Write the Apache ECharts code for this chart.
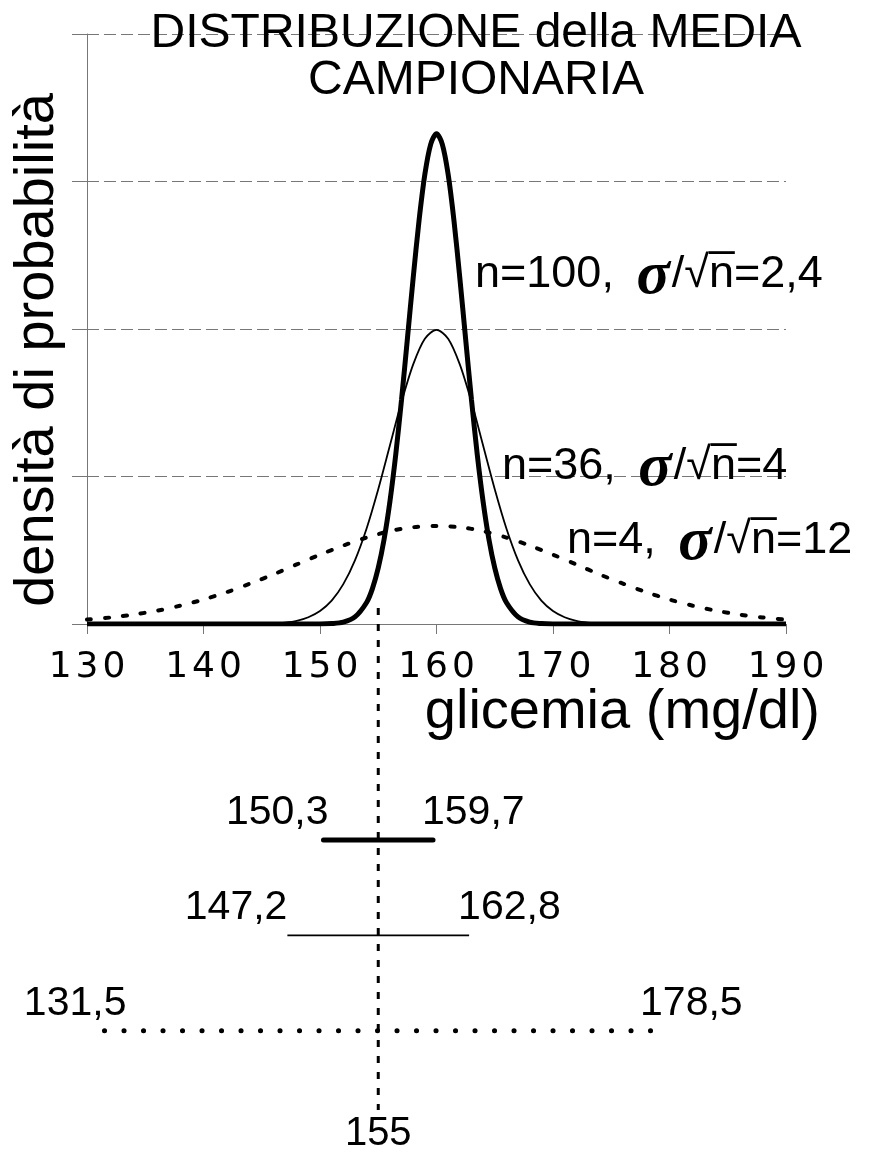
<!DOCTYPE html>
<html><head><meta charset="utf-8">
<script src="https://cdn.jsdelivr.net/npm/echarts@6/dist/echarts.min.js"></script>
<style>html,body{margin:0;padding:0;background:#fff}#c{width:877px;height:1153px}</style>
</head><body><div id="c"></div>
<script>
// x axis range and ticks
const xMin = 130, xMax = 190, xStep = 10;
const yMax = 0.2, yStep = 0.05;

// n = 100 (sigma/sqrt(n) = 2.4) density
const n100X = [130,145,150,151,152,153,154,154.5,155,155.5,156,156.5,157,157.5,158,158.5,159,159.5,160,160.5,161,161.5,162,162.5,163,163.5,164,164.5,165,165.5,166,167,168,169,170,175,190];
const n100Y = [0,0,0.00002,0.00015,0.00064,0.0024,0.0073,0.012,0.019,0.0287,0.0415,0.0574,0.0761,0.0966,0.1174,0.1367,0.1524,0.1626,0.1662,0.1626,0.1524,0.1367,0.1174,0.0966,0.0761,0.0574,0.0415,0.0287,0.019,0.012,0.0073,0.0024,0.00064,0.00015,0.00002,0,0];

// n = 36 (sigma/sqrt(n) = 4)
const n36X = [130,140,145,146,147,148,149,150,151,152,153,154,155,156,157,158,159,160,161,162,163,164,165,166,167,168,169,170,171,172,173,174,175,180,190];
const n36Y = [0,0,0.0001,0.0002,0.0005,0.0011,0.0023,0.0044,0.0079,0.0135,0.0216,0.0324,0.0457,0.0605,0.0753,0.088,0.0967,0.0997,0.0967,0.088,0.0753,0.0605,0.0457,0.0324,0.0216,0.0135,0.0079,0.0044,0.0023,0.0011,0.0005,0.0002,0.0001,0,0];

// n = 4 (sigma/sqrt(n) = 12)
const n4X = [130,132,134,136,138,140,142,144,146,148,150,152,154,156,158,160,162,164,166,168,170,172,174,176,178,180,182,184,186,188,190];
const n4Y = [0.0015,0.0022,0.0032,0.0045,0.0062,0.0083,0.0108,0.0137,0.0168,0.0202,0.0235,0.0266,0.0293,0.0315,0.0328,0.0332,0.0328,0.0315,0.0293,0.0266,0.0235,0.0202,0.0168,0.0137,0.0108,0.0083,0.0062,0.0045,0.0032,0.0022,0.0015];

// confidence intervals (rows top to bottom: n=100, n=36, n=4)
const ciRow = [1, 2, 3];
const ciLow = [150.3, 147.2, 131.5];
const ciHigh = [159.7, 162.8, 178.5];
const sampleMean = 155;

// annotation texts
const curveLabels = [
  ['n=100, ', '2,4'],
  ['n=36, ', '4'],
  ['n=4, ', '12']
];

const FONT = '"Liberation Sans", Arial, Helvetica, sans-serif';
const zip = (a, b) => a.map((v, i) => [v, b[i]]);
const fmt = v => String(v).replace('.', ',');

// styles
const ciLine = [
  {width: 5, type: 'solid', cap: 'round'},
  {width: 1.8, type: 'solid', cap: 'butt'},
  {width: 5, type: [0.1, 19.4], cap: 'round'}
];
const leftDx = [5, 0, 22], rightDx = [-11, -11, -12];
const labelPos = [[475, 275], [502, 467], [567, 541]];

const chart = echarts.init(document.getElementById('c'), null, {renderer: 'canvas'});

const labelBase = {fontFamily: FONT, color: '#000', opacity: 1, textBorderWidth: 0};

const series = [
  {type: 'line', xAxisIndex: 0, yAxisIndex: 0, data: zip(n4X, n4Y), showSymbol: false, smooth: 0.3,
   lineStyle: {color: '#000', width: 4, type: [4, 14], cap: 'round'}, z: 3},
  {type: 'line', xAxisIndex: 0, yAxisIndex: 0, data: zip(n36X, n36Y), showSymbol: false, smooth: 0.3,
   lineStyle: {color: '#000', width: 1.8}, z: 4},
  {type: 'line', xAxisIndex: 0, yAxisIndex: 0, data: zip(n100X, n100Y), showSymbol: false, smooth: 0.3,
   lineStyle: {color: '#000', width: 5}, z: 5},
  // vertical dotted line at observed mean
  {type: 'line', xAxisIndex: 1, yAxisIndex: 1, data: [[sampleMean, -1.43], [sampleMean, 3.83]], showSymbol: false,
   lineStyle: {color: '#000', width: 3, type: [7, 9]}, z: 2},
  {type: 'scatter', xAxisIndex: 1, yAxisIndex: 1, data: [[sampleMean, 3.83]], symbolSize: 0,
   itemStyle: {color: '#000'},
   label: Object.assign({show: true, position: 'bottom', distance: 4, formatter: p => fmt(p.value[0]), fontSize: 40}, labelBase)}
];

ciRow.forEach((r, i) => {
  series.push({type: 'line', xAxisIndex: 1, yAxisIndex: 1, data: [[ciLow[i], r], [ciHigh[i], r]], showSymbol: false,
    lineStyle: Object.assign({color: '#000'}, ciLine[i]), z: 3});
  series.push({type: 'scatter', xAxisIndex: 1, yAxisIndex: 1, symbolSize: 0, itemStyle: {color: '#000'},
    data: [
      {value: [ciLow[i], r], label: {align: 'right', offset: [leftDx[i], 0]}},
      {value: [ciHigh[i], r], label: {align: 'left', offset: [rightDx[i], 0]}}
    ],
    label: Object.assign({show: true, position: 'top', distance: 7, formatter: p => fmt(p.value[0]), fontSize: 41}, labelBase)});
});

const graphics = [
  {type: 'text', x: 476, y: 10, z: 1, style: {text: 'DISTRIBUZIONE della MEDIA\nCAMPIONARIA',
    fontSize: 48, fontFamily: FONT, lineHeight: 47, fill: '#000', textAlign: 'center', align: 'center', textVerticalAlign: 'top', verticalAlign: 'top'}},
  {type: 'text', x: 38, y: 350, rotation: Math.PI / 2, style: {text: 'densità di probabilità', fontSize: 56, fontFamily: FONT,
    fill: '#000', textAlign: 'center', align: 'center', textVerticalAlign: 'middle', verticalAlign: 'middle'}},
  {type: 'text', x: 820, y: 713, style: {text: 'glicemia (mg/dl)', fontSize: 56, fontFamily: FONT,
    fill: '#000', textAlign: 'right', align: 'right', textVerticalAlign: 'middle', verticalAlign: 'middle'}}
];
curveLabels.forEach((t, i) => {
  graphics.push({type: 'text', x: labelPos[i][0], y: labelPos[i][1], z: 10, style: {
    text: '{a|' + t[0] + '}{s|σ}{a|/√n\u0305=' + t[1] + '}',
    textAlign: 'left', align: 'left', textVerticalAlign: 'middle', verticalAlign: 'middle', fill: '#000',
    rich: {
      a: {fontSize: 45, fontFamily: FONT, fill: '#000', color: '#000'},
      s: {fontSize: 62, fontFamily: '"Liberation Serif", "DejaVu Serif", serif', fontStyle: 'italic', fontWeight: 'bold', fill: '#000', color: '#000', padding: [4, 2, 0, 10]}
    }}});
});

chart.setOption({
  animation: false,
  backgroundColor: '#fff',
  grid: [
    {left: 87, right: 91, top: 34, bottom: 529},
    {left: 87, right: 91, top: 608, bottom: 43}
  ],
  xAxis: [
    {type: 'value', gridIndex: 0, min: xMin, max: xMax, interval: xStep,
     axisLine: {show: true, lineStyle: {color: '#777', width: 1}},
     axisTick: {show: true, length: 10, lineStyle: {color: '#777', width: 1}},
     axisLabel: {show: true, margin: 26, color: '#000',
                 formatter: v => String(v).split('').map(c => '{d|' + c + '}').join(''),
                 rich: {d: {fontFamily: '"DejaVu Sans", sans-serif', fontSize: 36, color: '#000', padding: [0, 2, 0, 2]}}},
     splitLine: {show: false}},
    {type: 'value', gridIndex: 1, min: xMin, max: xMax, show: false}
  ],
  yAxis: [
    {type: 'value', gridIndex: 0, min: 0, max: yMax, interval: yStep,
     axisLine: {show: true, lineStyle: {color: '#777', width: 1}},
     axisTick: {show: true, length: 15, lineStyle: {color: '#777', width: 1}},
     axisLabel: {show: false},
     splitLine: {show: true, lineStyle: {color: '#777', width: 1, type: [12, 5]}}},
    {type: 'value', gridIndex: 1, min: -1.43, max: 3.83, inverse: true, show: false}
  ],
  graphic: graphics,
  series: series
});
</script>
</body></html>
